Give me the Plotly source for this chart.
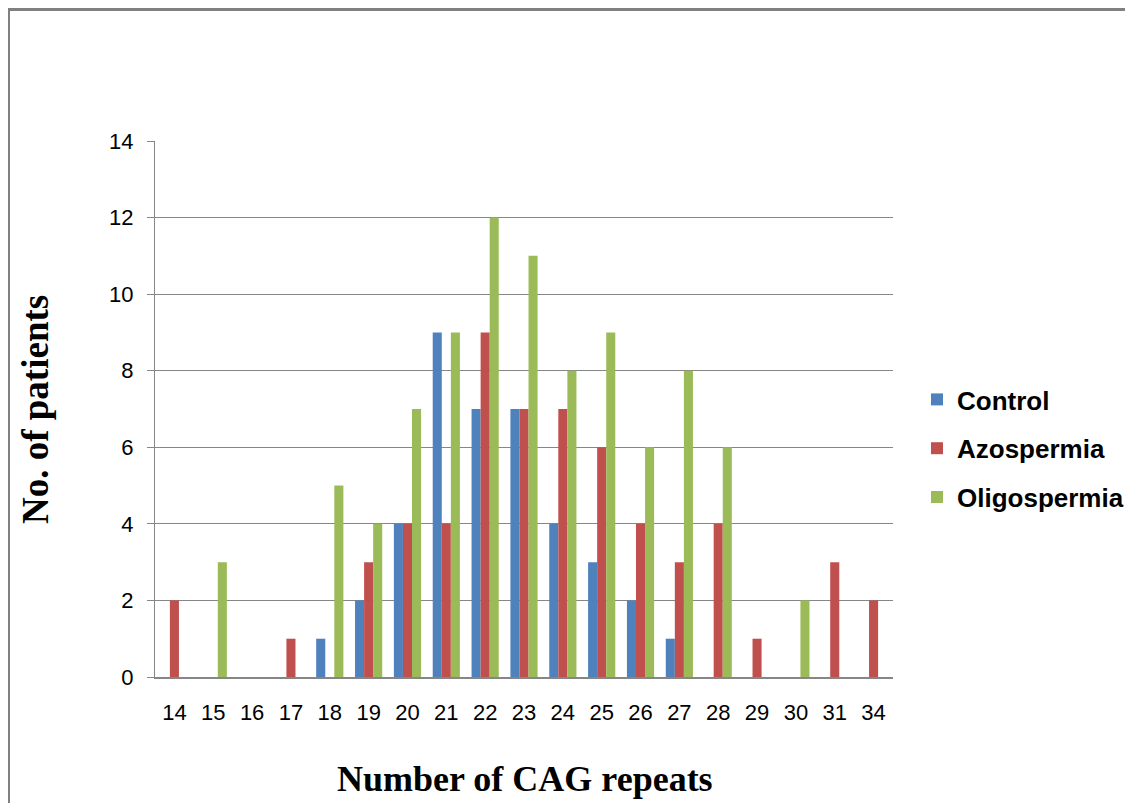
import plotly.graph_objects as go

categories = ["14", "15", "16", "17", "18", "19", "20", "21", "22", "23",
              "24", "25", "26", "27", "28", "29", "30", "31", "34"]
control = [0, 0, 0, 0, 1, 2, 4, 9, 7, 7, 4, 3, 2, 1, 0, 0, 0, 0, 0]
azospermia = [2, 0, 0, 1, 0, 3, 4, 4, 9, 7, 7, 6, 4, 3, 4, 1, 0, 3, 2]
oligospermia = [0, 3, 0, 0, 5, 4, 7, 9, 12, 11, 8, 9, 6, 8, 6, 0, 2, 0, 0]
y_ticks = [0, 2, 4, 6, 8, 10, 12, 14]

series = [("Control", control, "#4F81BD"),
          ("Azospermia", azospermia, "#C0504D"),
          ("Oligospermia", oligospermia, "#9BBB59")]

# page body has an 8px margin; work in figure pixel coordinates
OFF = 8
W, H = 1133 - OFF, 803 - OFF
L, R, T, B = 155 - OFF, 893 - OFF, 141 - OFF, 677 - OFF
pw, ph = R - L, B - T


def px(x):  # screen x -> paper
    return (x - OFF - L) / pw


def py(y):  # screen y -> paper
    return (B - (y - OFF)) / ph


fig = go.Figure()
for name, vals, col in series:
    fig.add_trace(go.Bar(x=categories, y=vals, name=name, marker_color=col,
                         marker_line_width=0, legendgroup=name))

grey = "#868686"
fig.update_layout(
    width=W, height=H,
    margin=dict(l=L, r=W - R, t=T, b=H - B, autoexpand=False),
    paper_bgcolor="white", plot_bgcolor="white",
    barmode="group", bargap=0.3, bargroupgap=0,
    font=dict(family="Liberation Sans", color="black", size=22),
    showlegend=True,
    legend=dict(x=px(917), y=py(376), xanchor="left", yanchor="top",
                font=dict(family="Liberation Sans", size=26, color="black",
                          weight="bold"),
                tracegroupgap=12, itemwidth=30, bgcolor="rgba(0,0,0,0)"),
    xaxis=dict(type="category", showgrid=False, showline=True, linecolor=grey,
               linewidth=2, ticks="", ticklabelstandoff=15,
               tickfont=dict(size=22)),
    yaxis=dict(range=[0, 14], tickvals=y_ticks, showgrid=True, gridcolor=grey,
               gridwidth=1.3, showline=True, linecolor=grey, linewidth=1,
               ticks="outside", ticklen=7, tickcolor=grey, zeroline=False,
               ticklabelstandoff=9, tickfont=dict(size=22)),
    annotations=[
        dict(text="<b>Number of CAG repeats</b>", xref="paper", yref="paper",
             x=px(525), y=py(779), xanchor="center", yanchor="middle",
             showarrow=False,
             font=dict(family="Liberation Serif", size=36, color="black")),
        dict(text="<b>No. of patients</b>", xref="paper", yref="paper",
             x=px(35), y=py(410), xanchor="center", yanchor="middle",
             textangle=-90, showarrow=False,
             font=dict(family="Liberation Serif", size=37, color="black")),
    ],
    shapes=[
        dict(type="line", xref="paper", yref="paper", x0=px(8.5), x1=px(8.5),
             y0=py(820), y1=py(9.5), line=dict(color="#808080", width=3)),
        dict(type="line", xref="paper", yref="paper", x0=px(7), x1=px(1145),
             y0=py(9.5), y1=py(9.5), line=dict(color="#808080", width=3)),
    ],
)

fig.write_html("out.html")
